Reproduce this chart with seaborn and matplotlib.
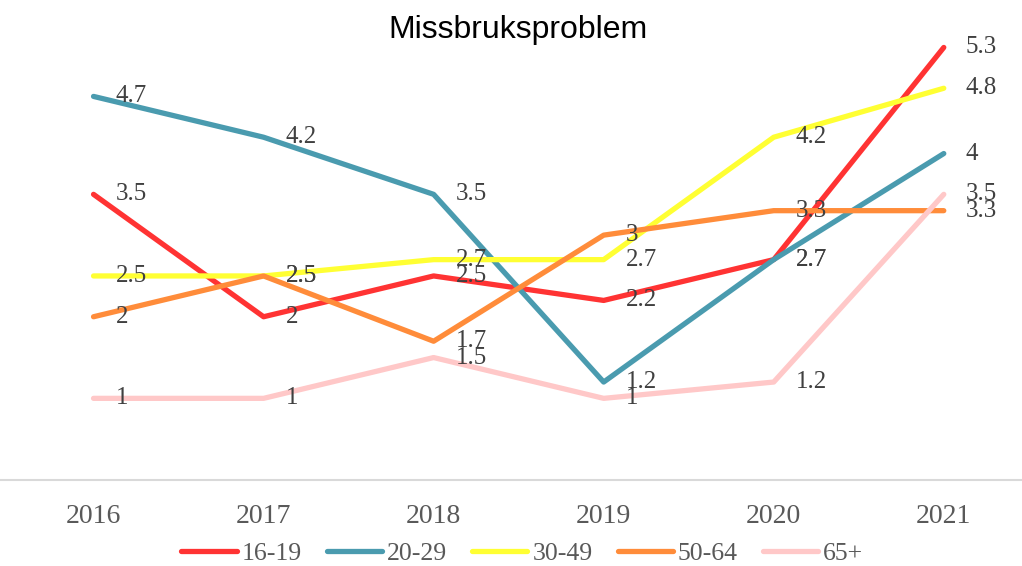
import matplotlib
matplotlib.use("Agg")
import matplotlib.pyplot as plt
import seaborn as sns
import pandas as pd
from matplotlib.lines import Line2D

years = ["2016", "2017", "2018", "2019", "2020", "2021"]
series_names = ["16-19", "20-29", "30-49", "50-64", "65+"]
v_16_19 = [3.5, 2, 2.5, 2.2, 2.7, 5.3]
v_20_29 = [4.7, 4.2, 3.5, 1.2, 2.7, 4]
v_30_49 = [2.5, 2.5, 2.7, 2.7, 4.2, 4.8]
v_50_64 = [2, 2.5, 1.7, 3, 3.3, 3.3]
v_65 = [1, 1, 1.5, 1, 1.2, 3.5]
colors = ["#FF3333", "#4A9BAF", "#FFFF33", "#FF8C3A", "#FFC8C8"]

values = [v_16_19, v_20_29, v_30_49, v_50_64, v_65]
rows = []
for name, vals in zip(series_names, values):
    for i, (y, v) in enumerate(zip(years, vals)):
        rows.append({"year": y, "x": i, "group": name, "value": v})
df = pd.DataFrame(rows)

sns.set_theme(style="white")
plt.rcParams["font.family"] = ["Liberation Serif", "DejaVu Serif"]

fig = plt.figure(figsize=(10.22, 5.66), dpi=100)
ax = fig.add_axes([0.0, 0.152, 1.0, 0.793])

sns.lineplot(data=df, x="x", y="value", hue="group", palette=colors,
             hue_order=series_names, linewidth=3.8, ax=ax, legend=False,
             solid_capstyle="round")

for name, vals in zip(series_names, values):
    for i, v in enumerate(vals):
        ax.annotate(f"{v:g}", (i, v), xytext=(16, 0), textcoords="offset points",
                    ha="left", va="center", fontsize=18, color="#404040")

ax.set_xlim(-0.55, 5.46)
ax.set_ylim(0, 5.5)
ax.set_xticks(range(len(years)))
ax.set_xticklabels(years, fontsize=20, color="#595959")
ax.set_yticks([])
ax.set_xlabel("")
ax.set_ylabel("")
ax.tick_params(axis="x", length=0, pad=17)
for s in ["top", "right", "left"]:
    ax.spines[s].set_visible(False)
ax.spines["bottom"].set_color("#D9D9D9")
ax.spines["bottom"].set_linewidth(1.5)

fig.text(0.507, 0.947, "Missbruksproblem", ha="center", va="center",
         fontsize=23, family=["Liberation Sans", "DejaVu Sans"], color="black")

handles = [Line2D([0], [0], color=c, linewidth=3.8, solid_capstyle="round") for c in colors]
fig.legend(handles, series_names, loc="center", bbox_to_anchor=(0.511, 0.022),
           ncol=5, frameon=False, fontsize=18.5, handlelength=2.15, columnspacing=0.98,
           handletextpad=0.19, labelcolor="#595959")

fig.savefig("out.png", dpi=100)
